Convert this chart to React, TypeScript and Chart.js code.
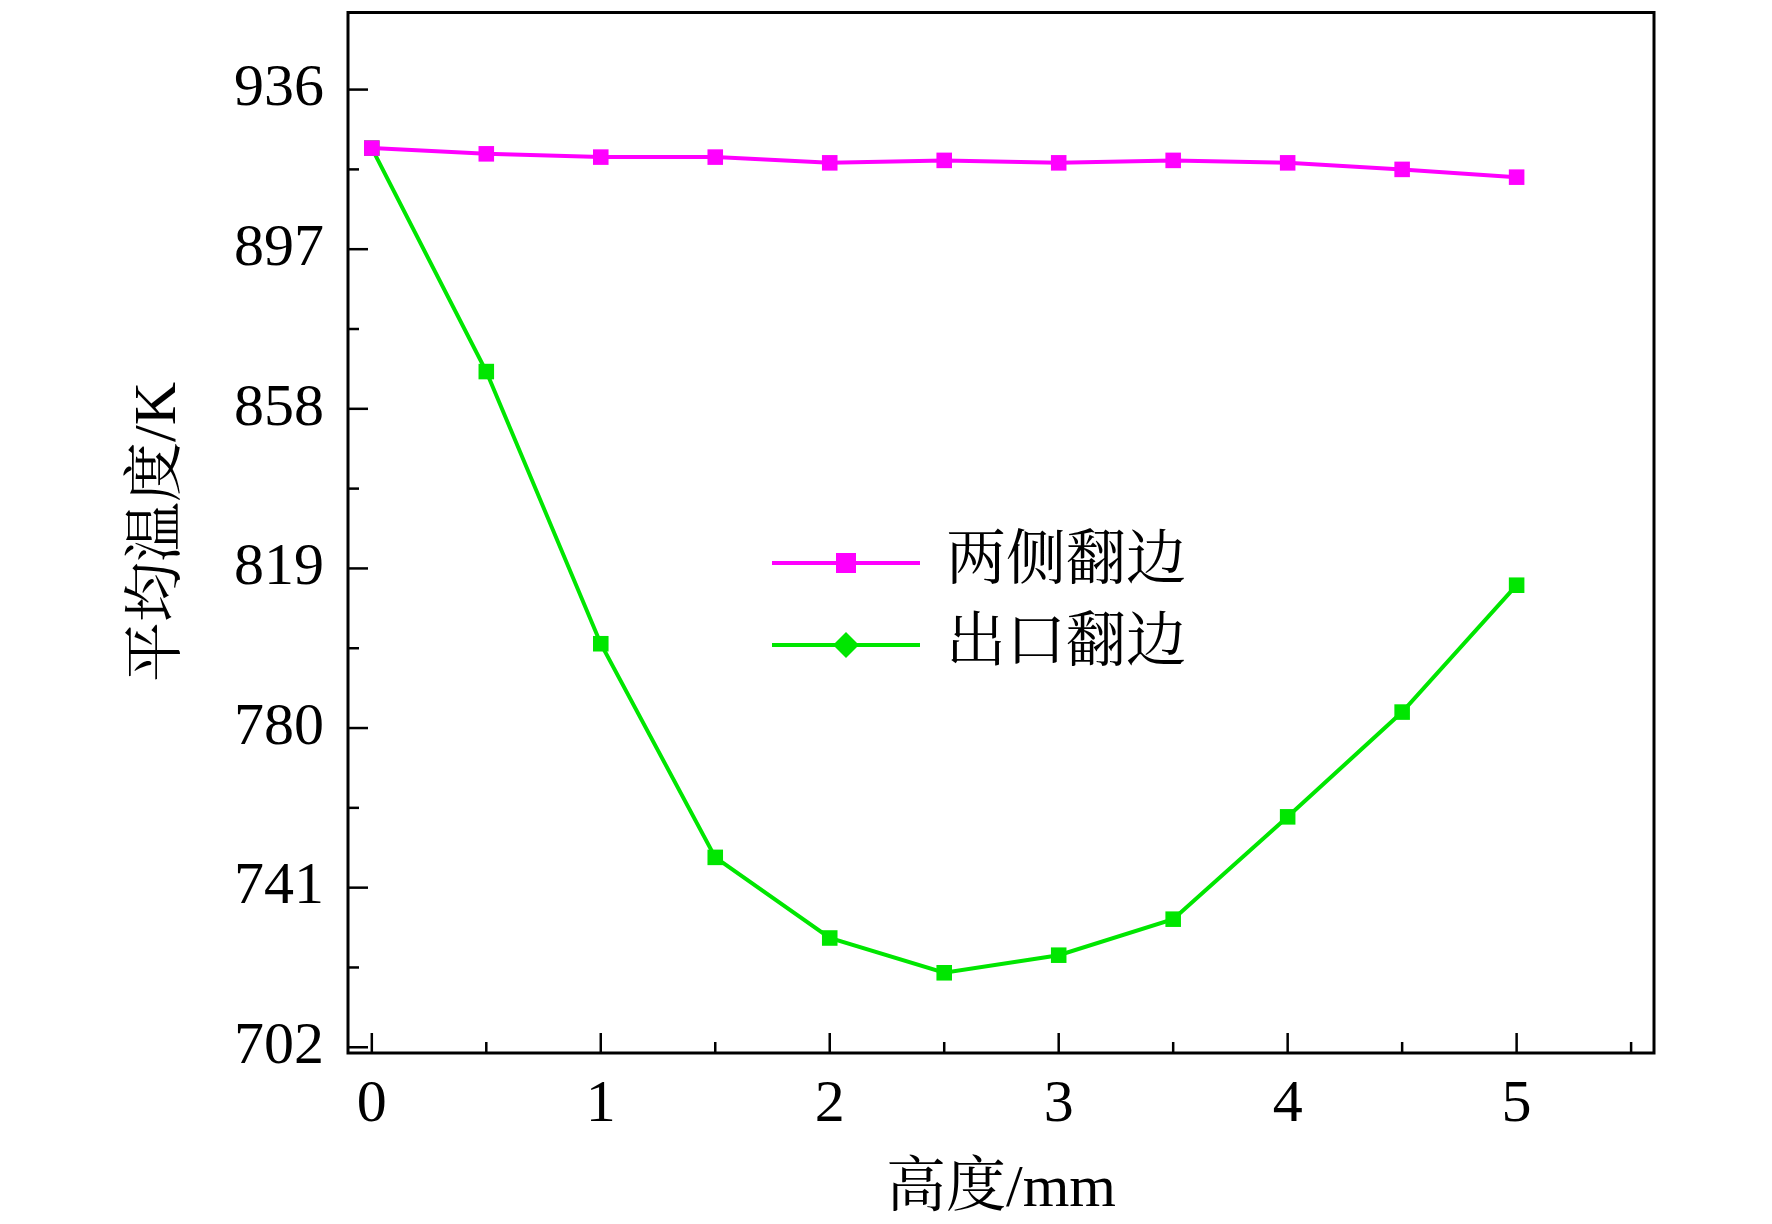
import React, { useEffect, useRef } from "react";
import { Chart, registerables } from "chart.js";
Chart.register(...registerables);

const xValues = [0, 0.5, 1, 1.5, 2, 2.5, 3, 3.5, 4, 4.5, 5];
const sideFlange = [921.7, 920.3, 919.5, 919.5, 918.1, 918.7, 918.1, 918.7, 918.1, 916.5, 914.6];
const outletFlange = [921.7, 867.1, 800.6, 748.4, 728.7, 720.2, 724.5, 733.3, 758.3, 783.9, 814.9];
const yTicks = [702, 741, 780, 819, 858, 897, 936];
const xTicks = [0, 1, 2, 3, 4, 5];
const legendLabels = ["两侧翻边", "出口翻边"];
const xTitle = "高度/mm";
const yTitle = "平均温度/K";
const FONT = "'Liberation Serif', 'Noto Serif CJK SC', 'Noto Sans CJK SC', serif";

const framePlugin = {
  id: "frame",
  afterDraw(chart: any) {
    const { ctx, chartArea: a, scales } = chart;
    const x = scales.x, y = scales.y;
    ctx.save();
    ctx.strokeStyle = "#000";
    ctx.lineWidth = 3;
    ctx.strokeRect(a.left, a.top + 1.5, a.right - a.left, a.bottom - a.top - 1.5);
    ctx.lineWidth = 2.5;
    yTicks.forEach((v) => {
      const p = y.getPixelForValue(v);
      ctx.beginPath(); ctx.moveTo(a.left, p); ctx.lineTo(a.left + 20, p); ctx.stroke();
      const m = y.getPixelForValue(v + 19.5);
      if (m > a.top) { ctx.beginPath(); ctx.moveTo(a.left, m); ctx.lineTo(a.left + 11, m); ctx.stroke(); }
    });
    for (let v = 0; v <= 5.5; v += 0.5) {
      const p = x.getPixelForValue(v);
      const len = Number.isInteger(v) ? 20 : 11;
      ctx.beginPath(); ctx.moveTo(p, a.bottom); ctx.lineTo(p, a.bottom - len); ctx.stroke();
    }
    // titles
    ctx.fillStyle = "#000"; ctx.font = `60px ${FONT}`; ctx.textAlign = "center"; ctx.textBaseline = "middle";
    ctx.fillText(xTitle, (a.left + a.right) / 2, 1190);
    ctx.save(); ctx.translate(159, (a.top + a.bottom) / 2); ctx.rotate(-Math.PI / 2);
    ctx.fillText(yTitle, 0, 0); ctx.restore();
    // legend
    const items = [
      { c: "#ff00ff", shape: "sq", yy: 563 },
      { c: "#00e600", shape: "dia", yy: 645 },
    ];
    items.forEach((it, i) => {
      ctx.strokeStyle = it.c; ctx.fillStyle = it.c; ctx.lineWidth = 4;
      ctx.beginPath(); ctx.moveTo(772, it.yy); ctx.lineTo(920, it.yy); ctx.stroke();
      const cx = 846;
      if (it.shape === "sq") ctx.fillRect(cx - 10, it.yy - 10, 20, 20);
      else { ctx.beginPath(); ctx.moveTo(cx, it.yy - 13); ctx.lineTo(cx + 13, it.yy); ctx.lineTo(cx, it.yy + 13); ctx.lineTo(cx - 13, it.yy); ctx.closePath(); ctx.fill(); }
      ctx.fillStyle = "#000"; ctx.font = `60px ${FONT}`; ctx.textAlign = "left"; ctx.textBaseline = "middle";
      ctx.fillText(legendLabels[i], 946, it.yy);
    });
    ctx.restore();
  },
};

export default function App() {
  const ref = useRef<HTMLCanvasElement>(null);
  useEffect(() => {
    document.body.style.margin = "0";
    const chart = new Chart(ref.current!, {
      type: "line",
      data: {
        datasets: [
          { label: legendLabels[0], data: xValues.map((x, i) => ({ x, y: sideFlange[i] })), borderColor: "#ff00ff", backgroundColor: "#ff00ff", borderWidth: 4, pointStyle: "rect", pointRadius: 11, pointBorderWidth: 0 },
          { label: legendLabels[1], data: xValues.map((x, i) => ({ x, y: outletFlange[i] })), borderColor: "#00e600", backgroundColor: "#00e600", borderWidth: 4, pointStyle: "rect", pointRadius: 11, pointBorderWidth: 0 },
        ],
      },
      options: {
        animation: false, responsive: false, devicePixelRatio: 1,
        layout: { padding: { right: 118, top: 0, left: 0, bottom: 0 } },
        plugins: { legend: { display: false }, tooltip: { enabled: false } },
        scales: {
          x: {
            type: "linear", min: -0.104, max: 5.6,
            afterBuildTicks: (s: any) => { s.ticks = xTicks.map((v) => ({ value: v })); },
            afterFit: (s: any) => { s.height = 171; s.paddingLeft = 0; s.paddingRight = 0; },
            grid: { display: false, drawTicks: false }, border: { display: false },
            ticks: { color: "#000", font: { size: 60, family: FONT }, padding: 16 },
          },
          y: {
            min: 700.6, max: 955.2,
            afterBuildTicks: (s: any) => { s.ticks = yTicks.map((v) => ({ value: v })); },
            afterFit: (s: any) => { s.width = 348; s.paddingTop = 0; s.paddingBottom = 0; },
            grid: { display: false, drawTicks: false }, border: { display: false },
            ticks: { color: "#000", font: { size: 60, family: FONT }, padding: 24 },
          },
        },
      },
      plugins: [framePlugin],
    });
    return () => chart.destroy();
  }, []);
  return <canvas ref={ref} width={1772} height={1224} style={{ display: "block" }} />;
}
